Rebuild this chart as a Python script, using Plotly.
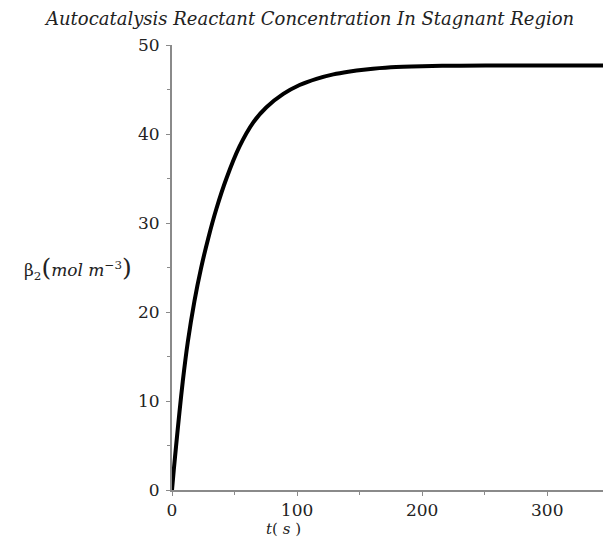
import plotly.graph_objects as go

t_s = [0, 1.4, 3.3, 6, 8.6, 12.6, 17.9, 23.2, 29, 35.5, 43.5, 54, 65, 75.5,
       89, 102, 115.5, 129, 141, 155, 175, 200, 230, 270, 310, 345]
beta2 = [0, 2.2, 5.0, 8.8, 12.2, 16.6, 21.2, 24.9, 28.3, 31.6, 35.0, 38.6,
         41.3, 43.0, 44.5, 45.5, 46.2, 46.7, 47.0, 47.25, 47.5, 47.62, 47.68,
         47.7, 47.7, 47.7]
x_ticks = [0, 100, 200, 300]
y_ticks = [0, 10, 20, 30, 40, 50]

serif = "DejaVu Serif, serif"
gray = "#8a8a8a"
txt = "#222"

fig = go.Figure()
fig.add_trace(go.Scatter(x=t_s, y=beta2, mode="lines",
                         line=dict(color="black", width=4, shape="spline", smoothing=0.8),
                         hoverinfo="skip", showlegend=False))

axis_common = dict(showgrid=False, zeroline=False, showline=True, linecolor=gray,
                   linewidth=2, ticks="outside", ticklen=4, tickwidth=1, tickcolor=gray,
                   tickfont=dict(family=serif, size=17, color=txt))

fig.update_xaxes(range=[0, 344.6], tickvals=x_ticks, ticktext=[str(v) for v in x_ticks],
                 minor=dict(dtick=50, ticks="outside", ticklen=3, tickcolor=gray),
                 **axis_common)
fig.update_yaxes(range=[0, 50], tickvals=y_ticks, ticktext=[str(v) for v in y_ticks],
                 minor=dict(dtick=5, ticks="outside", ticklen=3, tickcolor=gray),
                 ticklabelstandoff=3, **axis_common)

W = 431.0
H = 445.0
fig.update_layout(
    width=603, height=542,
    margin=dict(l=172, r=0, t=45, b=52),
    plot_bgcolor="white", paper_bgcolor="white",
    annotations=[
        dict(text="<i>Autocatalysis Reactant Concentration In Stagnant Region</i>",
             xref="paper", yref="paper", x=(309 - 172) / W, y=1 + (45 - 19) / H,
             xanchor="center", yanchor="middle", showarrow=False,
             font=dict(family=serif, size=18, color=txt)),
        dict(text="β<sub>2</sub><span style='font-size:25px'>(</span><i>mol m</i>"
                  "<sup>−3</sup><span style='font-size:25px'>)</span>",
             xref="paper", yref="paper", x=(78 - 172) / W, y=(490 - 268) / H,
             xanchor="center", yanchor="middle", showarrow=False,
             font=dict(family=serif, size=17, color=txt)),
        dict(text="<i>t</i>( <i>s</i> )",
             xref="paper", yref="paper", x=(283 - 172) / W, y=-(529 - 490) / H,
             xanchor="center", yanchor="middle", showarrow=False,
             font=dict(family=serif, size=15, color=txt)),
    ],
)

fig.write_html("out.html")
